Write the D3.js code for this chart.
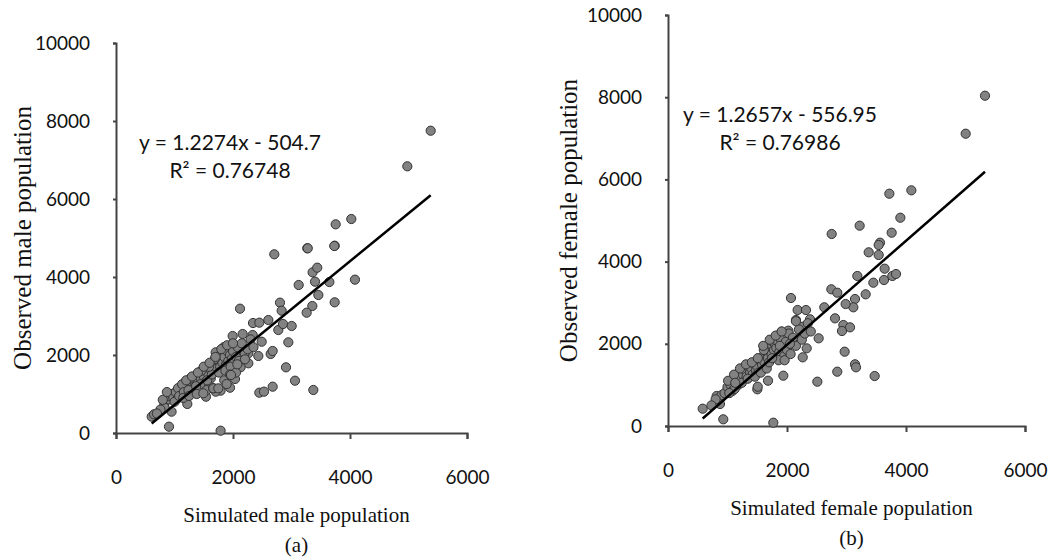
<!DOCTYPE html>
<html>
<head>
<meta charset="utf-8">
<script src="https://cdn.jsdelivr.net/npm/d3@7"></script>
<style>
  body { margin: 0; background: #fff; }
  .tick text { font-family: Lato, "Open Sans", sans-serif; font-size: 19px; fill: #111; }
  .axis path, .axis line { stroke: #444; stroke-width: 2; }
  .eq { font-family: Lato, "Open Sans", sans-serif; font-size: 21px; fill: #111; }
  .lbl { font-family: "Liberation Serif", "DejaVu Serif", serif; font-size: 21px; fill: #111; }
  .ylbl { font-family: "Liberation Serif", "DejaVu Serif", serif; font-size: 25px; fill: #111; }
</style>
</head>
<body>
<svg width="1056" height="558"></svg>
<script>
// ticks
var xTicks = [0, 2000, 4000, 6000];
var yTicks = [0, 2000, 4000, 6000, 8000, 10000];

// [simulated, observed] male
var malePoints = [
  [2706,4582],[3270,4736],[3738,4803],[3361,4120],[3440,4239],[3402,3880],[3123,3795],[3647,3872],
  [4085,3932],[3459,3538],[3356,3256],[3259,3085],[3738,3351],[2803,3342],[2832,3136],[2120,3188],
  [2604,2897],[2342,2820],[2450,2829],[2775,2641],[2855,2795],[3003,2744],[2946,2325],[2490,2341],
  [1994,2487],[2165,2538],[2336,2513],[1704,2069],[1846,2205],[2006,2197],[2108,2044],[2262,2044],
  [2433,1974],[2644,2026],[2678,2103],[2906,1684],[3060,1341],[3373,1103],[2678,1188],[2450,1034],
  [2530,1060],[2262,1787],[2130,1684],[2034,1385],[1949,1162],[1788,1085],[1704,1060],[1538,931],
  [1219,744],[950,547],[906,162],[1788,59],[610,419],[650,479],[826,735],[894,863],
  [5379,7751],[4980,6838],[4022,5487],[3755,5351],[3277,4736],[3732,4795],
  [900,950],[950,1000],[980,900],[1020,1050],[1050,880],[1100,1100],[1120,1000],[1150,1200],
  [1180,1300],[1200,1250],[1220,1150],[1250,1350],[1280,1200],[1300,1300],[1320,1400],[1350,1250],
  [1380,1450],[1400,1350],[1420,1500],[1450,1400],[1480,1550],[1500,1450],[1520,1300],[1550,1600],
  [1580,1500],[1600,1650],[1620,1400],[1650,1700],[1680,1550],[1700,1800],[1720,1650],[1750,1900],
  [1780,1700],[1800,2000],[1820,1800],[1850,1950],[1880,1750],[1900,2100],[1920,1850],[1950,2000],
  [1980,1900],[2000,2100],[2050,1950],[2080,2200],[2100,1850],[2150,2300],[2200,2050],[2250,2150],
  [2300,2400],[2350,2200],[1060,1150],[1130,1250],[1270,1400],[1330,1150],[1440,1250],[1560,1350],
  [1640,1500],[1760,1550],[1870,1600],[1960,1700],[1000,800],[1080,950],[1160,1050],[1240,1100],
  [1370,1200],[1460,1600],[1590,1700],[1690,1900],[830,650],[760,600],[700,500],[1200,1350],
  [1300,1450],[1400,1550],[1500,1700],[1600,1800],[1700,1950],[1800,2150],[1900,2250],[2000,2300],
  [1150,900],[1250,950],[1380,1000],[1550,1100],[1660,1150],[1850,1350],[1950,1500],[2050,1550],
  [800,850],[870,1050],[1493,1017],[1664,1145],[1749,1145],[1892,1256],[1966,1487],[2074,1761],[2205,1889]
];

// [simulated, observed] female
var femalePoints = [
  [2751,4672],[3563,4460],[3541,4404],[3759,4703],[3373,4226],[3541,4161],[3641,3828],[3182,3650],
  [3451,3487],[3630,3552],[3770,3650],[3832,3698],[3322,3204],[3143,3090],[3115,2888],[2986,2968],
  [2745,3326],[2845,3243],[2627,2888],[2067,3114],[2179,2822],[2319,2822],[2807,2620],[2947,2457],
  [3059,2401],[2924,2311],[2532,2133],[2969,1808],[3143,1501],[3160,1428],[2845,1321],[3473,1216],
  [2510,1078],[1938,1224],[1681,1102],[1501,893],[1508,956],[929,163],[1770,80],[583,421],
  [818,730],[874,535],[2151,2579],[2264,2416],[2387,2596],[2264,1671],[2331,1890],[1910,2294],
  [2022,2319],[5328,8036],[5003,7112],[3720,5652],[4090,5734],[3221,4874],[3905,5068],
  [900,750],[950,800],[1000,950],[1050,1000],[1080,850],[1100,1100],[1150,1200],[1180,1000],
  [1200,1300],[1230,1150],[1260,1250],[1300,1350],[1320,1200],[1350,1450],[1380,1300],[1400,1400],
  [1420,1250],[1450,1500],[1480,1350],[1500,1450],[1520,1300],[1550,1600],[1580,1500],[1600,1700],
  [1620,1550],[1650,1800],[1680,1650],[1700,1900],[1720,2000],[1740,1750],[1760,2050],[1780,1850],
  [1800,2000],[1820,1900],[1850,2050],[1870,1800],[1900,2100],[1920,1950],[1950,1700],[1980,2050],
  [2000,1850],[2030,2250],[2060,2000],[2100,2150],[2150,1950],[2200,2350],[2250,2100],[2300,2250],
  [2350,2500],[2400,2300],[1120,900],[1240,1050],[1340,1150],[1460,1200],[1560,1300],[1660,1400],
  [1860,1600],[1960,1600],[2060,1750],[1010,1100],[1110,1250],[1210,1400],[1310,1500],[1410,1550],
  [1510,1650],[1610,1850],[1710,2100],[1810,2200],[1910,2300],[800,650],[730,500],[1030,800],
  [1130,1050],[1600,1950],[1700,1550],[1750,1650],[1880,1950],[2150,2550],[2050,2000]
];

var maleFit = {slope: 1.2274, intercept: -504.7};
var femaleFit = {slope: 1.2657, intercept: -556.95};

var svg = d3.select("svg");

function panel(pts, fit, box, eq, r2, xLabel, yLabel, tag) {
  var x = d3.scaleLinear().domain([0, 6000]).range([box.x0, box.x1]);
  var y = d3.scaleLinear().domain([0, 10000]).range([box.y0, box.y1]);

  svg.append("g").attr("class", "axis")
    .attr("transform", "translate(0," + box.y0 + ")")
    .call(d3.axisBottom(x).tickValues(xTicks).tickFormat(d3.format("d"))
      .tickSize(6).tickPadding(32).tickSizeOuter(6));
  svg.append("g").attr("class", "axis")
    .attr("transform", "translate(" + box.x0 + ",0)")
    .call(d3.axisLeft(y).tickValues(yTicks).tickFormat(d3.format("d"))
      .tickSize(3).tickPadding(23).tickSizeOuter(3));

  svg.append("g").selectAll("circle")
    .data(pts)
    .enter().append("circle")
    .attr("cx", function(d) { return x(d[0]); })
    .attr("cy", function(d) { return y(d[1]); })
    .attr("r", 4.6)
    .attr("fill", "#828282")
    .attr("stroke", "#333")
    .attr("stroke-width", 1);

  var ext = d3.extent(pts, function(d) { return d[0]; });
  svg.append("line")
    .attr("x1", x(ext[0])).attr("y1", y(fit.slope * ext[0] + fit.intercept))
    .attr("x2", x(ext[1])).attr("y2", y(fit.slope * ext[1] + fit.intercept))
    .attr("stroke", "#000").attr("stroke-width", 2.5);

  svg.append("text").attr("class", "eq")
    .attr("x", eq.x).attr("y", eq.y).attr("text-anchor", "middle")
    .text("y = " + fit.slope + "x - " + Math.abs(fit.intercept));
  svg.append("text").attr("class", "eq")
    .attr("x", eq.x).attr("y", eq.y + 28).attr("text-anchor", "middle")
    .text("R\u00b2 = " + r2);

  var cx = (box.x0 + box.x1) / 2 + 5;
  svg.append("text").attr("class", "lbl")
    .attr("x", cx).attr("y", box.y0 + 89).attr("text-anchor", "middle")
    .text(xLabel);
  svg.append("text").attr("class", "lbl")
    .attr("x", cx).attr("y", box.y0 + 119).attr("text-anchor", "middle")
    .text(tag);
  svg.append("text").attr("class", "ylbl")
    .attr("transform", "translate(" + box.ylx + "," + ((box.y0 + box.y1) / 2) + ") rotate(-90)")
    .attr("text-anchor", "middle")
    .attr("dy", "0.35em")
    .text(yLabel);
}

panel(malePoints, maleFit, {x0: 116, x1: 467, y0: 433, y1: 43, ylx: 22}, {x: 230, y: 150}, "0.76748",
  "Simulated male population", "Observed male population", "(a)");
panel(femalePoints, femaleFit, {x0: 668, x1: 1025, y0: 426, y1: 15, ylx: 568}, {x: 780, y: 122}, "0.76986",
  "Simulated female population", "Observed female population", "(b)");
</script>
</body>
</html>
